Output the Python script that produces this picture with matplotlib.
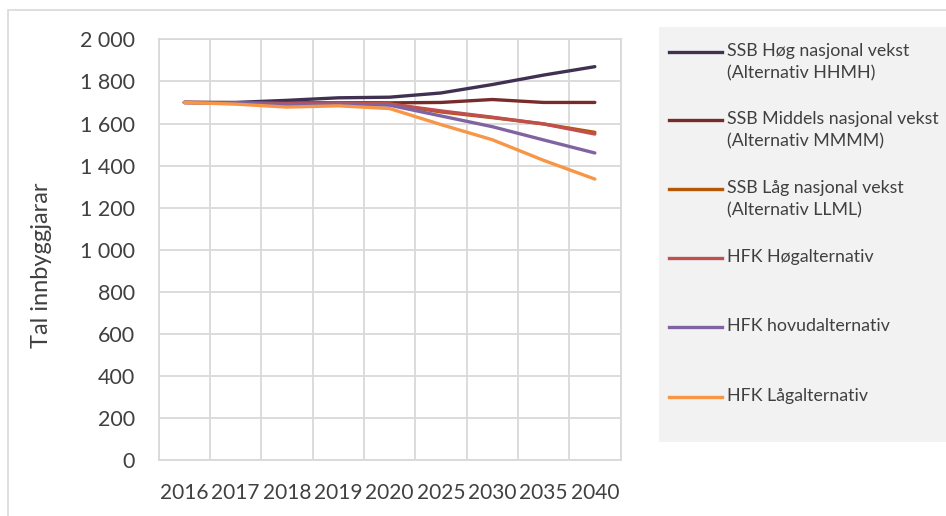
import matplotlib
matplotlib.use("Agg")
import matplotlib.pyplot as plt
from matplotlib.lines import Line2D
from matplotlib.patches import Rectangle
from matplotlib.ticker import FuncFormatter, MultipleLocator

years = ["2016", "2017", "2018", "2019", "2020", "2025", "2030", "2035", "2040"]
ssb_hog = [1700, 1700, 1710, 1722, 1725, 1745, 1785, 1830, 1870]
ssb_middels = [1700, 1699, 1698, 1699, 1698, 1700, 1714, 1700, 1700]
ssb_lag = [1700, 1698, 1694, 1697, 1693, 1655, 1628, 1598, 1558]
hfk_hog = [1700, 1698, 1695, 1697, 1693, 1660, 1630, 1598, 1550]
hfk_hovud = [1700, 1696, 1690, 1692, 1687, 1636, 1585, 1522, 1460]
hfk_lag = [1700, 1692, 1678, 1684, 1671, 1595, 1523, 1425, 1336]

labels = ["SSB Høg nasjonal vekst\n(Alternativ HHMH)",
          "SSB Middels nasjonal vekst\n(Alternativ MMMM)",
          "SSB Låg nasjonal vekst\n(Alternativ LLML)",
          "HFK Høgalternativ",
          "HFK hovudalternativ",
          "HFK Lågalternativ"]
series = [ssb_hog, ssb_middels, ssb_lag, hfk_hog, hfk_hovud, hfk_lag]
colors = ["#403152", "#772C2A", "#B65708", "#C0504D", "#8064A2", "#F79646"]

W, H = 946, 516
plt.rcParams['font.family'] = ['Lato', 'DejaVu Sans']
fig = plt.figure(figsize=(W / 100, H / 100), dpi=100)

def fx(px):
    return px / W

def fy(py):
    return 1 - py / H

# outer border (extends past right/bottom edges)
fig.add_artist(Rectangle((fx(8), fy(600)), fx(1200), (600 - 10) / H,
                         transform=fig.transFigure, fill=False, edgecolor="#D9D9D9", lw=1.2))

ax = fig.add_axes([fx(158.7), fy(460.3), fx(620.5) - fx(158.7), (460.3 - 39.3) / H])
x = list(range(len(years)))
for s, c in zip(series, colors):
    ax.plot(x, s, color=c, lw=2.4, solid_capstyle="round")

ax.set_xlim(-0.5, len(years) - 0.5)
ax.set_ylim(0, 2000)
ax.yaxis.set_major_locator(MultipleLocator(200))
ax.yaxis.set_major_formatter(FuncFormatter(lambda v, p: f"{int(v):,}".replace(",", " ")))
ax.set_xticks(x)
ax.set_xticklabels(years)
ax.set_xticks([i - 0.5 for i in range(len(years) + 1)], minor=True)
ax.grid(True, which="major", axis="y", color="#D9D9D9", lw=1.3)
ax.grid(True, which="minor", axis="x", color="#D9D9D9", lw=1.3)
ax.set_axisbelow(True)
ax.tick_params(axis="both", which="both", length=0, colors="#404040")
ax.tick_params(axis="y", labelsize=15.5, pad=17)
ax.tick_params(axis="x", labelsize=15, pad=16)
for sp in ax.spines.values():
    sp.set_color("#D9D9D9")
    sp.set_linewidth(1.3)

fig.text(fx(42), fy(265), "Tal innbyggjarar", rotation=90, ha="center", va="center",
         fontsize=17, color="#404040")

# legend box
fig.add_artist(Rectangle((fx(659), fy(442)), fx(400), (442 - 27) / H,
                         transform=fig.transFigure, facecolor="#F2F2F2", edgecolor="none"))
ys = [52, 120, 189, 258, 327, 397]
for yy, lab, c in zip(ys, labels, colors):
    fig.add_artist(Line2D([fx(669), fx(722)], [fy(yy), fy(yy)], transform=fig.transFigure,
                          color=c, lw=2.4))
    fig.text(fx(727), fy(yy - 9), lab, ha="left", va="top", fontsize=12.8,
             color="#404040", linespacing=1.5)

fig.savefig("out.png", dpi=100)
